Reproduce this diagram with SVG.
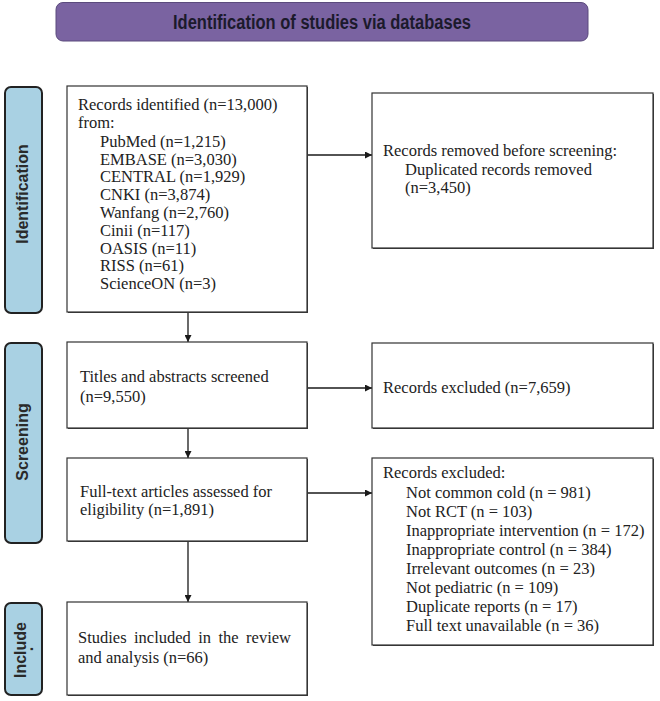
<svg xmlns="http://www.w3.org/2000/svg" width="660" height="701" viewBox="0 0 660 701">
  <defs>
    <style>
      .box { fill: #ffffff; stroke: #333333; stroke-width: 1.2; }
      .shadow { fill: #3a3a3a; }
      .phase { fill: #a9d1e3; stroke: #222222; stroke-width: 2; }
      .phase-text { font-family: "Liberation Sans", Arial, sans-serif; font-weight: bold; font-size: 16px; fill: #2a2a2a; text-anchor: middle; }
      .t { font-family: "Liberation Serif", "Times New Roman", serif; font-size: 16.5px; fill: #222222; }
      .link { stroke: #1a1a1a; stroke-width: 1.3; fill: none; marker-end: url(#arrow); }
      .title-text { font-family: "Liberation Sans Narrow", "Liberation Sans", Arial, sans-serif; font-weight: bold; font-size: 19.5px; fill: #1c1a2c; }
    </style>
    <marker id="arrow" viewBox="0 0 10 10" refX="10" refY="5" markerWidth="7" markerHeight="7" markerUnits="userSpaceOnUse" orient="auto">
      <path d="M0,0 L10,5 L0,10 z" fill="#1a1a1a"/>
    </marker>
  </defs>

  <rect width="660" height="701" fill="#ffffff"/>

  <!-- header -->
  <g id="header">
    <rect x="56" y="2.5" width="532" height="38.5" rx="7" fill="#7a63a1" stroke="#5b4b7d" stroke-width="1"/>
    <text class="title-text" x="173" y="28.5" textLength="298" lengthAdjust="spacingAndGlyphs">Identification of studies via databases</text>
  </g>

  <!-- phase labels -->
  <g id="phase-identification">
    <rect class="phase" x="5" y="87" width="37" height="226" rx="6"/>
    <text class="phase-text" transform="translate(28,194) rotate(-90)">Identification</text>
  </g>
  <g id="phase-screening">
    <rect class="phase" x="5" y="343" width="37" height="200" rx="6"/>
    <text class="phase-text" transform="translate(28,442) rotate(-90)">Screening</text>
  </g>
  <g id="phase-include">
    <rect class="phase" x="5" y="603" width="37" height="92" rx="6"/>
    <text class="phase-text" transform="translate(26,650) rotate(-90)">Include</text>
    <text class="phase-text" transform="translate(33,649) rotate(-90)">.</text>
  </g>

  <!-- connectors -->
  <g id="connectors">
    <line class="link" x1="188" y1="312" x2="188" y2="342"/>
    <line class="link" x1="188" y1="428" x2="188" y2="458"/>
    <line class="link" x1="188" y1="541" x2="188" y2="602"/>
    <line class="link" x1="307" y1="155" x2="372" y2="155"/>
    <line class="link" x1="307" y1="388" x2="372" y2="388"/>
    <line class="link" x1="307" y1="493" x2="372" y2="493"/>
  </g>

  <!-- records identified -->
  <g id="records-identified">
    <rect class="shadow" x="68" y="87" width="240" height="226"/>
    <rect class="box" x="67" y="86" width="240" height="226"/>
    <text class="t" x="78" y="110">Records identified (n=13,000)</text>
    <text class="t" x="78" y="128">from:</text>
    <text class="t" x="100" y="146.6">PubMed (n=1,215)</text>
    <text class="t" x="100" y="164.6">EMBASE (n=3,030)</text>
    <text class="t" x="100" y="182.4">CENTRAL (n=1,929)</text>
    <text class="t" x="100" y="200.2">CNKI (n=3,874)</text>
    <text class="t" x="100" y="218">Wanfang (n=2,760)</text>
    <text class="t" x="100" y="235.8">Cinii (n=117)</text>
    <text class="t" x="100" y="253.6">OASIS (n=11)</text>
    <text class="t" x="100" y="271.4">RISS (n=61)</text>
    <text class="t" x="100" y="289.2">ScienceON (n=3)</text>
  </g>

  <!-- records removed -->
  <g id="records-removed">
    <rect class="shadow" x="373" y="94" width="281" height="155"/>
    <rect class="box" x="372" y="93" width="281" height="155"/>
    <text class="t" x="383" y="156">Records removed before screening:</text>
    <text class="t" x="405" y="175">Duplicated records removed</text>
    <text class="t" x="405" y="193">(n=3,450)</text>
  </g>

  <!-- titles and abstracts -->
  <g id="titles-screened">
    <rect class="shadow" x="68" y="343" width="240" height="86"/>
    <rect class="box" x="67" y="342" width="240" height="86"/>
    <text class="t" x="80" y="382">Titles and abstracts screened</text>
    <text class="t" x="80" y="402">(n=9,550)</text>
  </g>

  <!-- records excluded after screening -->
  <g id="records-excluded">
    <rect class="shadow" x="373" y="344" width="281" height="85"/>
    <rect class="box" x="372" y="343" width="281" height="85"/>
    <text class="t" x="383" y="393">Records excluded (n=7,659)</text>
  </g>

  <!-- full text -->
  <g id="full-text">
    <rect class="shadow" x="68" y="459" width="240" height="83"/>
    <rect class="box" x="67" y="458" width="240" height="83"/>
    <text class="t" x="80" y="497">Full-text articles assessed for</text>
    <text class="t" x="80" y="515">eligibility (n=1,891)</text>
  </g>

  <!-- exclusion reasons -->
  <g id="full-text-excluded">
    <rect class="shadow" x="373" y="459" width="281" height="187"/>
    <rect class="box" x="372" y="458" width="281" height="187"/>
    <text class="t" x="383" y="478">Records excluded:</text>
    <text class="t" x="406" y="497.5">Not common cold (n = 981)</text>
    <text class="t" x="406" y="516.5">Not RCT (n = 103)</text>
    <text class="t" x="406" y="535.5">Inappropriate intervention (n = 172)</text>
    <text class="t" x="406" y="554.5">Inappropriate control (n = 384)</text>
    <text class="t" x="406" y="573.5">Irrelevant outcomes (n = 23)</text>
    <text class="t" x="406" y="592.5">Not pediatric (n = 109)</text>
    <text class="t" x="406" y="611.5">Duplicate reports (n = 17)</text>
    <text class="t" x="406" y="630.5">Full text unavailable (n = 36)</text>
  </g>

  <!-- included -->
  <g id="studies-included">
    <rect class="shadow" x="68" y="603" width="240" height="93"/>
    <rect class="box" x="67" y="602" width="240" height="93"/>
    <text class="t" x="78" y="643" word-spacing="3.3">Studies included in the review</text>
    <text class="t" x="78" y="663">and analysis (n=66)</text>
  </g>
</svg>
